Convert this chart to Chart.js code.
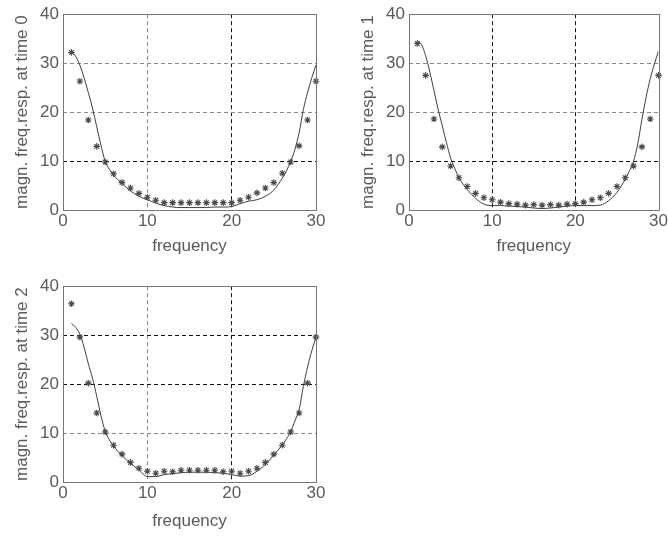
<!DOCTYPE html>
<html>
<head>
<meta charset="utf-8">
<script src="https://cdn.jsdelivr.net/npm/chart.js@4.4.1/dist/chart.umd.min.js"></script>
<style>
  html, body { margin: 0; padding: 0; background: #fff; width: 669px; height: 537px; overflow: hidden; }
  .plot { position: absolute; }
</style>
</head>
<body>
<div class="plot" style="left:0;top:0;width:340px;height:270px"><canvas id="c0"></canvas></div>
<div class="plot" style="left:346px;top:0;width:323px;height:270px"><canvas id="c1"></canvas></div>
<div class="plot" style="left:0;top:272px;width:340px;height:265px"><canvas id="c2"></canvas></div>
<script>
// sampled frequencies (stars) and the finer sampling of the solid curve
const freqs = [1, 2, 3, 4, 5, 6, 7, 8, 9, 10, 11, 12, 13, 14, 15, 16, 17, 18, 19, 20, 21, 22, 23, 24, 25, 26, 27, 28, 29, 30];
const lineFreq = [1, 1.5, 2, 2.5, 3, 3.5, 4, 4.5, 5, 5.5, 6, 7, 8, 9, 10, 11, 12, 13, 14, 15, 16, 17, 18, 19, 20, 21, 22, 23, 24, 25, 26, 26.5, 27, 27.5, 28, 28.5, 29, 29.5, 30];

const starMag0 = [32.2, 26.3, 18.4, 13.0, 9.8, 7.4, 5.6, 4.5, 3.4, 2.6, 2.0, 1.5, 1.5, 1.5, 1.5, 1.5, 1.5, 1.5, 1.5, 1.5, 2.0, 2.6, 3.5, 4.5, 5.6, 7.5, 9.8, 13.1, 18.4, 26.3];
const lineMag0 = [32.3, 31.4, 29.6, 27.0, 24.0, 20.8, 17.0, 13.2, 10.0, 8.3, 7.1, 5.4, 3.9, 2.8, 2.1, 1.4, 0.9, 0.6, 0.5, 0.5, 0.5, 0.5, 0.6, 0.6, 0.7, 1.3, 1.8, 2.1, 2.8, 4.1, 6.5, 8.0, 9.9, 12.4, 15.8, 20.5, 24.0, 27.0, 29.6];

const starMag1 = [34.0, 27.5, 18.6, 12.9, 9.0, 6.6, 4.8, 3.4, 2.5, 2.1, 1.6, 1.3, 1.2, 1.0, 1.1, 1.0, 1.1, 1.0, 1.2, 1.3, 1.6, 2.1, 2.5, 3.4, 4.8, 6.6, 9.0, 12.9, 18.6, 27.5];
const lineMag1 = [34.5, 33.8, 31.5, 28.2, 24.4, 20.6, 17.2, 13.8, 10.6, 8.5, 6.6, 4.2, 2.4, 1.2, 0.9, 0.9, 0.8, 0.7, 0.6, 0.4, 0.3, 0.4, 0.6, 0.8, 0.9, 0.9, 0.9, 1.0, 1.9, 3.6, 6.3, 8.0, 10.0, 13.5, 18.5, 23.0, 26.8, 29.8, 32.5];

const starMag2 = [36.4, 29.6, 20.2, 14.1, 10.2, 7.5, 5.7, 4.0, 2.8, 2.2, 1.8, 2.2, 2.1, 2.4, 2.4, 2.4, 2.4, 2.4, 2.1, 2.2, 1.8, 2.2, 2.8, 4.0, 5.7, 7.5, 10.2, 14.1, 20.2, 29.6];
const lineMag2 = [32.4, 31.6, 30.2, 27.5, 24.2, 21.2, 17.5, 13.6, 10.4, 8.6, 7.3, 5.4, 3.8, 2.5, 1.1, 1.1, 1.5, 1.7, 1.9, 2.0, 2.0, 2.0, 1.9, 1.8, 1.5, 1.2, 1.3, 2.2, 3.6, 5.5, 7.6, 8.8, 10.3, 12.5, 14.8, 19.5, 23.5, 26.8, 29.6];

const xTicks = [0, 10, 20, 30];
const yTicks = [0, 10, 20, 30, 40];
const xTitle = 'frequency';
const yTitles = ['magn. freq.resp. at time 0', 'magn. freq.resp. at time 1', 'magn. freq.resp. at time 2'];

const textColor = '#5a5a5a';
const font = { family: 'Liberation Sans, Arial, sans-serif', size: 17 };

const boxPlugin = {
  id: 'box',
  afterDraw(chart) {
    const { ctx, chartArea: a } = chart;
    ctx.save();
    ctx.strokeStyle = '#777';
    ctx.lineWidth = 1;
    ctx.strokeRect(Math.round(a.left) + 0.5, Math.round(a.top) + 0.5, Math.round(a.right - a.left), Math.round(a.bottom - a.top));
    ctx.restore();
  }
};

function gridColor(darkValues, edgeValues) {
  return (ctx) => {
    const v = ctx.tick && ctx.tick.value;
    if (edgeValues.includes(v)) return 'rgba(0,0,0,0)';
    return darkValues.includes(v) ? '#111' : '#888';
  };
}

// titleGap: distance from the plot bottom to the centre of the x title
function makePlot(id, stars, line, yTitle, rightPad, xHeight, titleGap, darkX, darkY) {
  new Chart(document.getElementById(id), {
    type: 'scatter',
    data: {
      datasets: [
        {
          data: lineFreq.map((f, i) => ({ x: f, y: line[i] })),
          showLine: true, borderColor: '#3f3f3f', borderWidth: 1,
          pointRadius: 0, tension: 0.4, cubicInterpolationMode: 'monotone', order: 2
        },
        {
          data: freqs.map((f, i) => ({ x: f, y: stars[i] })),
          pointStyle: 'star', pointRadius: 3.3, borderColor: '#4a4a4a', borderWidth: 1.1,
          backgroundColor: '#4a4a4a', clip: 6, order: 1
        }
      ]
    },
    options: {
      responsive: true, maintainAspectRatio: false, animation: false,
      layout: { padding: { top: 12, right: rightPad, bottom: 0, left: 0 }, autoPadding: false },
      plugins: { legend: { display: false }, tooltip: { enabled: false } },
      scales: {
        x: {
          type: 'linear', min: 0, max: 30,
          afterBuildTicks: (s) => { s.ticks = xTicks.map((v) => ({ value: v })); },
          afterFit: (s) => { s.height = xHeight; },
          ticks: { color: textColor, font, padding: 1, maxRotation: 0 },
          grid: { color: gridColor(darkX, [0, 30]), lineWidth: 1, drawTicks: false },
          border: { display: false, dash: [4, 3] },
          title: { display: true, text: xTitle, color: textColor, font, padding: { top: 0, bottom: xHeight - titleGap - 10.2 } }
        },
        y: {
          min: 0, max: 40,
          afterBuildTicks: (s) => { s.ticks = yTicks.map((v) => ({ value: v })); },
          afterFit: (s) => { s.width = 63; },
          ticks: { color: textColor, font, padding: 4 },
          grid: { color: gridColor(darkY, [0, 40]), lineWidth: 1, drawTicks: false },
          border: { display: false, dash: [4, 3] },
          title: { display: true, text: yTitle, color: textColor, font, padding: { top: 12, bottom: 0 } }
        }
      }
    },
    plugins: [boxPlugin]
  });
}

makePlot('c0', starMag0, lineMag0, yTitles[0], 24, 60, 36, [20], [10]);
makePlot('c1', starMag1, lineMag1, yTitles[1], 7, 60, 36, [10, 20], [10]);
makePlot('c2', starMag2, lineMag2, yTitles[2], 24, 55, 39, [20], [20, 30]);
</script>
</body>
</html>
